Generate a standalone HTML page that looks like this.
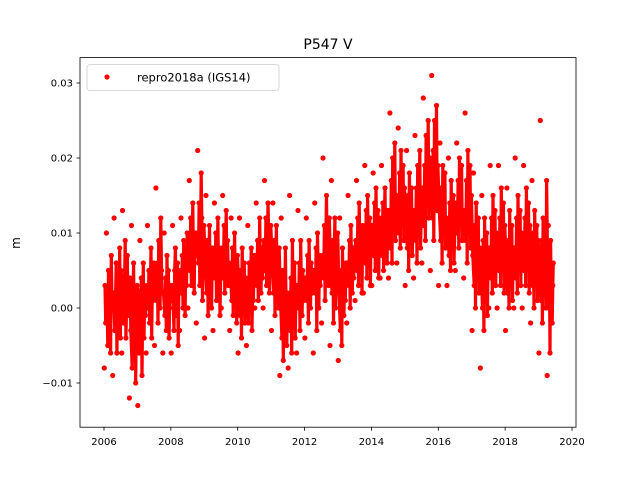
<!DOCTYPE html>
<html><head><meta charset="utf-8">
<style>
body{margin:0;background:#fff;}
svg text{font-family:"DejaVu Sans","Liberation Sans",sans-serif;}
</style></head>
<body>
<svg id="chart" width="640" height="480" xmlns="http://www.w3.org/2000/svg">
<rect width="640" height="480" fill="#fff"/>
<text x="328" y="49" font-size="14" text-anchor="middle">P547 V</text>
<text x="20" y="243" font-size="12" text-anchor="middle" transform="rotate(-90 20 243)">m</text>
<g id="marks"></g>
<rect x="80" y="57.6" width="496" height="369.6" fill="none" stroke="#000" stroke-width="0.8"/>
<g id="axes"></g>
<g>
<rect x="87" y="64.6" width="192" height="26" rx="3" fill="#fff" fill-opacity="0.8" stroke="#ccc" stroke-width="0.8"/>
<circle cx="107" cy="77" r="2.6" fill="#f00"/>
<text x="137" y="81.5" font-size="11.5">repro2018a (IGS14)</text>
</g>
</svg>
<script>
const binStarts = [2006,2006.25,2006.5,2006.75,2007,2007.25,2007.5,2007.75,2008,2008.25,2008.5,2008.75,2009,2009.25,2009.5,2009.75,2010,2010.25,2010.5,2010.75,2011,2011.25,2011.5,2011.75,2012,2012.25,2012.5,2012.75,2013,2013.25,2013.5,2013.75,2014,2014.25,2014.5,2014.75,2015,2015.25,2015.5,2015.75,2016,2016.25,2016.5,2016.75,2017,2017.25,2017.5,2017.75,2018,2018.25,2018.5,2018.75,2019,2019.25];
const valuesMm = [
"-8,3,-2,10,0,-5,5,-1,2,-6,7,1",
"-9,2,12,-3,1,6,-6,0,4,-2,8,-4",
"5,-6,13,1,-2,3,9,-4,0,7,-1,2",
"-12,4,-3,11,-8,0,6,-5,2,-10,-1,3",
"-13,2,-6,9,-2,4,-9,0,6,-4,1,-1",
"-6,3,11,0,5,-2,2,8,-4,4,1,6",
"-5,4,16,1,6,-2,9,3,0,12,5,2",
"-6,2,10,-1,4,-3,7,0,5,-4,3,1",
"-6,3,11,0,-3,5,8,-1,2,6,-5,4",
"-3,5,12,2,7,0,9,4,-1,6,3,10",
"0,9,17,5,12,3,8,14,6,2,10,7",
"-2,10,21,6,14,3,9,18,12,1,8,11",
"-4,6,15,2,9,-1,5,11,3,7,0,8",
"-3,7,14,4,10,1,6,12,3,8,-1,5",
"0,8,15,4,11,2,7,13,5,9,3,6",
"-3,5,12,1,8,-1,4,10,3,6,-2,7",
"-6,3,12,-1,5,-4,8,2,0,6,-2,4",
"-5,2,11,-2,6,0,4,8,-3,3,1,7",
"0,7,14,3,9,1,5,12,6,2,8,4",
"0,9,17,5,12,3,7,14,10,2,8,11",
"-3,6,14,2,9,-1,5,11,3,7,0,8",
"-9,1,12,-4,5,-7,3,-2,8,0,-5,2",
"-8,0,15,-3,4,-6,9,2,-1,6,-4,1",
"-6,3,13,0,6,-3,9,2,-1,5,1,4",
"-4,4,12,1,7,-2,9,3,0,6,2,5",
"-6,5,14,2,8,-3,10,4,0,7,3,6",
"-2,7,20,4,11,1,9,15,5,8,3,12",
"-5,5,17,2,9,-2,7,12,0,6,3,10",
"-7,2,12,-3,5,-5,8,0,-1,4,1,6",
"-2,6,15,3,9,0,11,5,2,8,4,7",
"1,9,17,5,12,3,14,8,6,10,2,11",
"2,10,19,6,13,4,15,8,9,12,3,11",
"3,11,18,7,14,5,16,9,10,13,4,12",
"4,10,19,7,14,5,12,16,8,11,6,13",
"4,13,26,8,17,6,20,11,14,22,9,15",
"6,14,24,10,18,8,21,12,15,19,9,16",
"3,12,21,8,15,5,18,10,13,16,7,11",
"4,13,23,9,16,6,19,11,14,21,8,12",
"6,16,28,11,19,9,23,14,17,25,12,20",
"5,17,31,12,21,9,25,15,18,27,13,19",
"3,13,22,9,16,6,19,11,14,18,8,12",
"3,11,20,7,14,5,17,9,12,15,6,10",
"5,14,22,10,17,8,20,12,15,19,9,13",
"4,13,26,9,17,6,21,11,14,19,8,15",
"-3,7,18,3,11,0,14,5,9,12,2,8",
"-8,5,15,0,9,-3,12,3,6,10,-1,7",
"0,8,19,4,12,2,15,6,9,13,3,10",
"0,9,19,5,12,3,16,7,10,14,2,11",
"-3,6,16,2,9,0,13,4,7,11,1,8",
"0,8,20,4,12,2,15,6,9,13,3,10",
"0,9,19,5,12,3,16,7,10,14,2,11",
"-2,7,17,3,10,0,13,5,8,11,1,9",
"-6,5,25,1,9,-2,12,3,7,11,0,17",
"-9,4,11,0,7,-6,9,2,5,-2,3,6"
];
const xTicks = [2006,2008,2010,2012,2014,2016,2018,2020];
const yTicks = [-0.01,0.00,0.01,0.02,0.03];
const yTickLabels = ["\u22120.01","0.00","0.01","0.02","0.03"];
const binWidth = 0.25;

const xScale = v => 104 + (v - 2006) * (468 / 14);
const yScale = v => 308 - v * 7500;
const NS = "http://www.w3.org/2000/svg";
const marks = document.getElementById('marks');
const pts = [];
binStarts.forEach((s, i) => {
  const vals = valuesMm[i].split(',').map(Number);
  const w = (s === 2019.25) ? 0.2 : binWidth;
  vals.forEach((mm, k) => {
    const t = s + (k + 0.5) / vals.length * w;
    pts.push([xScale(t), yScale(mm / 1000), mm]);
  });
});
// dense core band: connect consecutive non-extreme samples
let d = '';
binStarts.forEach((s, i) => {
  const vals = valuesMm[i].split(',').map(Number);
  const sorted = vals.slice().sort((a, b) => a - b);
  const lo = sorted[1], hi = sorted[sorted.length - 2];
  const w = (s === 2019.25) ? 0.2 : binWidth;
  vals.forEach((mm, k) => {
    if (mm < lo || mm > hi) return;
    const t = s + (k + 0.5) / vals.length * w;
    d += (d ? 'L' : 'M') + xScale(t).toFixed(1) + ',' + yScale(mm / 1000).toFixed(1);
  });
});
const band = document.createElementNS(NS, 'path');


band.setAttribute('d', d);
band.setAttribute('fill', 'none');
band.setAttribute('stroke', '#f00');
band.setAttribute('stroke-width', '3.2');
band.setAttribute('stroke-linejoin', 'round');
marks.appendChild(band);
pts.forEach(p => {
  const c = document.createElementNS(NS, 'circle');
  
  
  c.setAttribute('cx', p[0].toFixed(1));
  c.setAttribute('cy', p[1].toFixed(1));
  c.setAttribute('r', '2.6');
  c.setAttribute('fill', '#f00');
  marks.appendChild(c);
});
const axes = document.getElementById('axes');
xTicks.forEach(v => {
  const x = xScale(v);
  const l = document.createElementNS(NS, 'line');
  
  
  l.setAttribute('x1', x); l.setAttribute('x2', x);
  l.setAttribute('y1', 427.2); l.setAttribute('y2', 430.7);
  l.setAttribute('stroke', '#000'); l.setAttribute('stroke-width', '0.8');
  axes.appendChild(l);
  const t = document.createElementNS(NS, 'text');
  
  
  t.setAttribute('x', x); t.setAttribute('y', 445);
  t.setAttribute('font-size', '10'); t.setAttribute('text-anchor', 'middle');
  t.textContent = String(v);
  axes.appendChild(t);
});
yTicks.forEach((v, i) => {
  const y = yScale(v);
  const l = document.createElementNS(NS, 'line');
  
  
  l.setAttribute('x1', 76.5); l.setAttribute('x2', 80);
  l.setAttribute('y1', y); l.setAttribute('y2', y);
  l.setAttribute('stroke', '#000'); l.setAttribute('stroke-width', '0.8');
  axes.appendChild(l);
  const t = document.createElementNS(NS, 'text');
  
  
  t.setAttribute('x', 73); t.setAttribute('y', y + 3.5);
  t.setAttribute('font-size', '10'); t.setAttribute('text-anchor', 'end');
  t.textContent = yTickLabels[i];
  axes.appendChild(t);
});
</script>
</body></html>
